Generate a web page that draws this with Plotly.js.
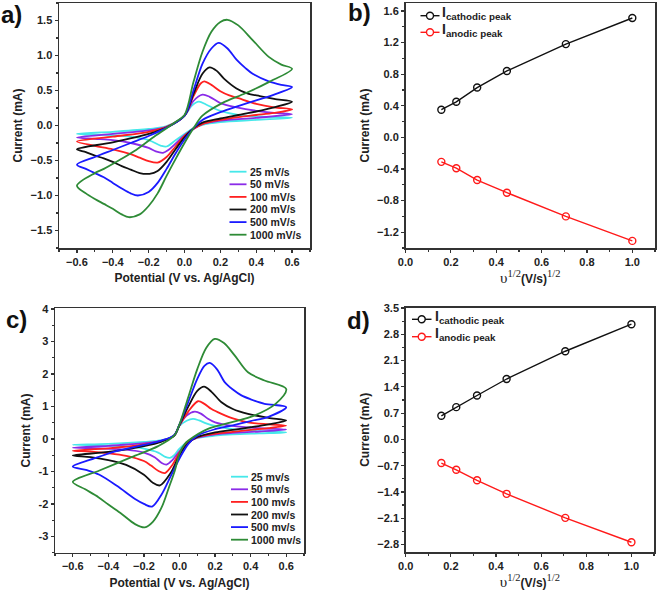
<!DOCTYPE html>
<html><head><meta charset="utf-8">
<script src="https://cdn.plot.ly/plotly-3.0.1.min.js"></script>
<style>html,body{margin:0;padding:0;background:#fff}#chart{width:658px;height:592px}</style>
</head><body><div id="chart"></div>
<script>
// ---------------- DATA ----------------
const scanLabelsA = ['25 mV/s', '50 mV/s', '100 mV/s', '200 mV/s', '500 mV/s', '1000 mV/s'];
const scanLabelsC = ['25 mv/s', '50 mv/s', '100 mv/s', '200 mv/s', '500 mv/s', '1000 mv/s'];
const cvColors = ['#46e8ea', '#8a2be8', '#ff2020', '#111111', '#1a1aff', '#2e8b36'];
const currentTicksC = [-3, -2, -1, 0, 1, 2, 3, 4];

// panel a : potential (V) and current (mA), forward sweep then reverse sweep
const a25E = [-0.6,-0.4,-0.2,-0.1,0,0.04,0.08,0.12,0.16,0.2,0.3,0.4,0.6, 0.4,0.2,0.1,0.05,0,-0.05,-0.1,-0.13,-0.2,-0.3,-0.4,-0.6];
const a25I = [-0.12,-0.09,-0.05,-0.01,0.14,0.28,0.34,0.3,0.25,0.21,0.15,0.13,0.11, 0.08,0.05,0.01,-0.04,-0.12,-0.21,-0.3,-0.29,-0.21,-0.16,-0.14,-0.12];
const a50E = [-0.6,-0.4,-0.2,-0.1,0,0.05,0.1,0.14,0.2,0.29,0.4,0.5,0.6, 0.4,0.2,0.1,0.05,0,-0.05,-0.09,-0.12,-0.16,-0.2,-0.3,-0.4,-0.5,-0.6];
const a50I = [-0.17,-0.12,-0.07,-0.02,0.14,0.35,0.44,0.41,0.32,0.26,0.21,0.18,0.16, 0.11,0.07,0.02,-0.05,-0.14,-0.26,-0.35,-0.39,-0.37,-0.32,-0.25,-0.21,-0.19,-0.17];
const a100E = [-0.6,-0.4,-0.2,-0.1,0,0.05,0.09,0.11,0.15,0.2,0.25,0.3,0.4,0.5,0.6, 0.5,0.4,0.3,0.2,0.1,0.05,0,-0.05,-0.1,-0.15,-0.2,-0.25,-0.3,-0.4,-0.5,-0.6];
const a100I = [-0.23,-0.16,-0.09,-0.02,0.14,0.42,0.6,0.63,0.58,0.49,0.43,0.39,0.31,0.26,0.23, 0.18,0.15,0.12,0.08,0.02,-0.05,-0.15,-0.3,-0.45,-0.53,-0.51,-0.46,-0.41,-0.34,-0.29,-0.23];
const a200E = [-0.6,-0.4,-0.2,-0.1,0,0.05,0.1,0.14,0.18,0.22,0.29,0.35,0.42,0.5,0.6, 0.5,0.4,0.3,0.2,0.1,0.05,0,-0.05,-0.1,-0.15,-0.195,-0.25,-0.3,-0.35,-0.4,-0.45,-0.5,-0.55,-0.6];
const a200I = [-0.34,-0.24,-0.12,-0.03,0.14,0.45,0.74,0.83,0.78,0.67,0.53,0.46,0.42,0.38,0.34, 0.26,0.2,0.15,0.1,0.04,-0.04,-0.17,-0.34,-0.52,-0.65,-0.69,-0.68,-0.63,-0.58,-0.52,-0.47,-0.43,-0.38,-0.34];
const a500E = [-0.6,-0.5,-0.4,-0.3,-0.2,-0.1,0,0.05,0.1,0.15,0.19,0.24,0.29,0.34,0.38,0.47,0.54,0.6, 0.5,0.44,0.35,0.29,0.2,0.1,0.05,0,-0.05,-0.1,-0.15,-0.2,-0.26,-0.3,-0.35,-0.4,-0.45,-0.5,-0.55,-0.6];
const a500I = [-0.56,-0.45,-0.35,-0.25,-0.15,-0.03,0.14,0.5,0.88,1.1,1.18,1.1,0.94,0.82,0.74,0.63,0.58,0.55, 0.44,0.39,0.32,0.27,0.19,0.08,-0.04,-0.2,-0.4,-0.62,-0.82,-0.95,-1.0,-0.97,-0.9,-0.82,-0.74,-0.68,-0.62,-0.56];
const a1000E = [-0.6,-0.5,-0.45,-0.36,-0.27,-0.18,-0.1,-0.05,0,0.05,0.1,0.15,0.2,0.24,0.3,0.38,0.47,0.54,0.6, 0.47,0.34,0.21,0.1,0.05,0,-0.05,-0.1,-0.15,-0.2,-0.25,-0.31,-0.35,-0.4,-0.45,-0.5,-0.55,-0.6];
const a1000I = [-0.86,-0.68,-0.62,-0.49,-0.35,-0.18,-0.04,0.05,0.15,0.62,1.05,1.34,1.48,1.51,1.43,1.22,0.98,0.87,0.81, 0.62,0.46,0.32,0.14,-0.04,-0.25,-0.48,-0.72,-0.97,-1.15,-1.27,-1.31,-1.27,-1.19,-1.12,-1.05,-0.97,-0.86];

// panel c
const c25E = [-0.6,-0.4,-0.2,-0.1,-0.03,0,0.04,0.076,0.11,0.15,0.2,0.3,0.45,0.6, 0.45,0.3,0.2,0.1,0.05,0,-0.03,-0.054,-0.08,-0.12,-0.2,-0.3,-0.45,-0.6];
const c25I = [-0.18,-0.15,-0.09,-0.04,0.1,0.4,0.56,0.62,0.57,0.48,0.4,0.3,0.24,0.2, 0.17,0.14,0.1,0.03,-0.08,-0.3,-0.5,-0.58,-0.55,-0.42,-0.3,-0.23,-0.2,-0.18];
const c50E = [-0.6,-0.4,-0.2,-0.1,-0.03,0,0.04,0.086,0.12,0.16,0.2,0.3,0.45,0.6, 0.45,0.3,0.2,0.1,0.05,0,-0.04,-0.073,-0.1,-0.14,-0.2,-0.3,-0.45,-0.6];
const c50I = [-0.27,-0.21,-0.13,-0.05,0.1,0.42,0.72,0.84,0.78,0.62,0.51,0.4,0.33,0.29, 0.23,0.19,0.14,0.04,-0.1,-0.38,-0.65,-0.79,-0.74,-0.56,-0.42,-0.33,-0.29,-0.27];
const c100E = [-0.6,-0.4,-0.2,-0.1,-0.03,0,0.05,0.104,0.14,0.18,0.236,0.3,0.385,0.5,0.6, 0.5,0.4,0.3,0.2,0.1,0.05,0,-0.04,-0.082,-0.12,-0.16,-0.2,-0.3,-0.4,-0.5,-0.6];
const c100I = [-0.36,-0.29,-0.17,-0.06,0.1,0.42,0.85,1.16,1.08,0.92,0.77,0.63,0.51,0.45,0.41, 0.33,0.28,0.22,0.16,0.05,-0.1,-0.42,-0.8,-1.05,-0.98,-0.82,-0.68,-0.52,-0.44,-0.39,-0.36];
const c200E = [-0.6,-0.4,-0.2,-0.1,-0.03,0,0.05,0.1,0.138,0.18,0.236,0.3,0.385,0.5,0.6, 0.5,0.4,0.3,0.2,0.1,0.05,0,-0.05,-0.11,-0.15,-0.2,-0.3,-0.4,-0.5,-0.6];
const c200I = [-0.51,-0.4,-0.22,-0.08,0.1,0.43,1.0,1.48,1.61,1.45,1.13,0.92,0.77,0.65,0.57, 0.45,0.36,0.28,0.2,0.06,-0.12,-0.5,-1.05,-1.43,-1.35,-1.1,-0.8,-0.65,-0.56,-0.51];
const c500E = [-0.6,-0.48,-0.36,-0.2,-0.1,-0.03,0,0.05,0.1,0.14,0.17,0.21,0.254,0.3,0.348,0.4,0.478,0.6, 0.5,0.4,0.3,0.2,0.1,0.05,0,-0.05,-0.1,-0.154,-0.2,-0.25,-0.35,-0.45,-0.52,-0.6];
const c500I = [-0.85,-0.6,-0.38,-0.18,-0.05,0.12,0.45,1.15,1.85,2.25,2.34,2.15,1.75,1.52,1.34,1.22,1.08,0.98, 0.68,0.55,0.42,0.3,0.1,-0.15,-0.6,-1.15,-1.7,-2.08,-2.0,-1.85,-1.45,-1.1,-0.96,-0.85];
const c1000E = [-0.6,-0.45,-0.27,-0.12,-0.03,0,0.05,0.1,0.15,0.198,0.25,0.31,0.385,0.478,0.6, 0.54,0.42,0.29,0.16,0.05,0.03,0,-0.026,-0.06,-0.1,-0.15,-0.195,-0.25,-0.325,-0.4,-0.456,-0.53,-0.6];
const c1000I = [-1.32,-0.97,-0.56,-0.22,0.1,0.45,1.3,2.15,2.8,3.08,2.95,2.57,2.05,1.8,1.54, 1.08,0.72,0.51,0.31,-0.05,-0.15,-0.45,-0.97,-1.5,-2.1,-2.55,-2.72,-2.62,-2.31,-2.02,-1.79,-1.55,-1.32];

// panels b and d : peak current vs square root of scan rate
const sqrtScanRate = [0.158, 0.224, 0.316, 0.447, 0.707, 1.0];
const ipCathodicB = [0.35, 0.45, 0.63, 0.84, 1.18, 1.51];
const ipAnodicB = [-0.31, -0.39, -0.54, -0.70, -1.00, -1.31];
const ipCathodicD = [0.63, 0.86, 1.17, 1.61, 2.35, 3.07];
const ipAnodicD = [-0.63, -0.81, -1.09, -1.45, -2.09, -2.74];
const peakNames = ['I<sub>cathodic peak</sub>', 'I<sub>anodic peak</sub>'];
const peakColors = ['#111111', '#ff1a1a'];

// ---------------- BUILD ----------------
const cvA = [[a25E,a25I],[a50E,a50I],[a100E,a100I],[a200E,a200I],[a500E,a500I],[a1000E,a1000I]];
const cvC = [[c25E,c25I],[c50E,c50I],[c100E,c100I],[c200E,c200I],[c500E,c500I],[c1000E,c1000I]];
const traces = [];
cvA.forEach((d,i)=>traces.push({x:d[0],y:d[1],type:'scatter',mode:'lines',name:scanLabelsA[i],
  line:{color:cvColors[i],width:1.8,shape:'spline',smoothing:0.9},xaxis:'x',yaxis:'y',showlegend:false,hoverinfo:'skip'}));
cvC.forEach((d,i)=>traces.push({x:d[0],y:d[1],type:'scatter',mode:'lines',name:scanLabelsC[i],
  line:{color:cvColors[i],width:1.8,shape:'spline',smoothing:0.9},xaxis:'x3',yaxis:'y3',showlegend:false,hoverinfo:'skip'}));
[[ipCathodicB,'x2','y2',0],[ipAnodicB,'x2','y2',1],[ipCathodicD,'x4','y4',0],[ipAnodicD,'x4','y4',1]].forEach(s=>{
  traces.push({x:sqrtScanRate,y:s[0],type:'scatter',mode:'lines+markers',name:peakNames[s[3]],
    line:{color:peakColors[s[3]],width:1.4},marker:{symbol:'circle-open',size:7,color:peakColors[s[3]],line:{width:1.4}},
    xaxis:s[1],yaxis:s[2],showlegend:false});
});

const tickFont = {family:'Arial, Liberation Sans, sans-serif',size:11,color:'#222',weight:'bold'};
const titleFont = {family:'Arial, Liberation Sans, sans-serif',size:12,color:'#222',weight:'bold'};
function ax(extra){
  return Object.assign({showline:true,mirror:true,linecolor:'#333',linewidth:1.5,ticks:'outside',ticklen:3,tickwidth:1.2,
    tickcolor:'#333',showgrid:false,zeroline:false,tickfont:tickFont,automargin:false,fixedrange:true},extra);
}
const W=658,H=592;
const px=v=>v/W, py=v=>1-v/H;
const potTitle = {text:'Potential (V vs. Ag/AgCl)',font:titleFont,standoff:7};
const curTitle = {text:'Current (mA)',font:titleFont,standoff:5};
const rootTitle = {text:'<span style="font-family:Liberation Serif,serif;font-weight:normal;font-size:15px">υ<sup>1/2</sup></span>(V/s)<span style="font-family:Liberation Serif,serif;font-weight:normal;font-size:15px"><sup>1/2</sup></span>',font:titleFont,standoff:5};
const mnr = d=>({dtick:d,ticks:'outside',ticklen:2,tickcolor:'#333'});

const layout = {
  width:W,height:H,margin:{l:0,r:0,t:0,b:0},paper_bgcolor:'#fff',plot_bgcolor:'#fff',showlegend:false,
  xaxis: ax({domain:[px(59),px(310)],range:[-0.7,0.7],dtick:0.2,tick0:0,tickformat:'.1f',minor:mnr(0.1),anchor:'y',title:potTitle}),
  yaxis: ax({domain:[py(248),py(3)],range:[-1.75,1.75],dtick:0.5,tick0:0,tickformat:'.1f',minor:mnr(0.25),anchor:'x',title:curTitle}),
  xaxis2: ax({domain:[px(405.5),px(655)],range:[0,1.1],dtick:0.2,tick0:0,tickformat:'.1f',minor:mnr(0.1),anchor:'y2',title:rootTitle}),
  yaxis2: ax({domain:[py(248),py(3)],range:[-1.4,1.7],dtick:0.4,tick0:0,tickformat:'.1f',minor:mnr(0.2),anchor:'x2',title:curTitle}),
  xaxis3: ax({domain:[px(55),px(304)],range:[-0.7,0.7],dtick:0.2,tick0:0,tickformat:'.1f',minor:mnr(0.1),anchor:'y3',title:potTitle}),
  yaxis3: ax({domain:[py(552.7),py(308.3)],range:[-3.5,4.02],tickmode:'array',tickvals:currentTicksC,ticktext:currentTicksC.map(String),minor:mnr(0.5),anchor:'x3',title:curTitle}),
  xaxis4: ax({domain:[px(405.7),px(654)],range:[0,1.1],dtick:0.2,tick0:0,tickformat:'.1f',minor:mnr(0.1),anchor:'y4',title:rootTitle}),
  yaxis4: ax({domain:[py(552),py(307.7)],range:[-3.0,3.51],dtick:0.7,tick0:0,tickformat:'.1f',minor:mnr(0.35),anchor:'x4',title:curTitle}),
  shapes:[], annotations:[]
};

// panel letters
const letterFont = {family:'Arial, Liberation Sans, sans-serif',size:24,color:'#111',weight:'bold'};
[['a)',11.5,14],['b)',359,13],['c)',16,319],['d)',358,320]].forEach(l=>{
  layout.annotations.push({text:l[0],x:px(l[1]),y:py(l[2]),xref:'paper',yref:'paper',showarrow:false,font:letterFont,xanchor:'center',yanchor:'middle'});
});

// CV legends (panels a and c)
const legFont = {family:'Arial, Liberation Sans, sans-serif',size:10.5,color:'#222',weight:'bold'};
[[229.5,246.5,248,171.7,scanLabelsA],[231,248,249,476.7,scanLabelsC]].forEach(g=>{
  g[4].forEach((lab,i)=>{
    const yy = py(g[3]+12.6*i);
    layout.shapes.push({type:'line',xref:'paper',yref:'paper',x0:px(g[0]),x1:px(g[1]),y0:yy,y1:yy,line:{color:cvColors[i],width:1.8}});
    layout.annotations.push({text:lab,x:px(g[2]),y:yy,xref:'paper',yref:'paper',showarrow:false,font:legFont,xanchor:'left',yanchor:'middle'});
  });
});
// peak legends (panels b and d)
const pkFont = {family:'Arial, Liberation Sans, sans-serif',size:14,color:'#222',weight:'bold'};
[[420.5,439.5,440,15.7,16.6],[412,431.5,432.5,319.3,17.4]].forEach(g=>{
  peakNames.forEach((lab,i)=>{
    const yy = py(g[3]+g[4]*i);
    const cx = px((g[0]+g[1])/2);
    layout.shapes.push({type:'line',xref:'paper',yref:'paper',x0:px(g[0]),x1:px(g[1]),y0:yy,y1:yy,line:{color:peakColors[i],width:1.4}});
    layout.shapes.push({type:'circle',xref:'paper',yref:'paper',xsizemode:'pixel',ysizemode:'pixel',xanchor:cx,yanchor:yy,
      x0:-3.5,x1:3.5,y0:-3.5,y1:3.5,line:{color:peakColors[i],width:1.4},fillcolor:'#fff'});
    layout.annotations.push({text:lab,x:px(g[2]),y:yy+0.004,xref:'paper',yref:'paper',showarrow:false,font:pkFont,xanchor:'left',yanchor:'middle'});
  });
});

Plotly.newPlot('chart',traces,layout,{displayModeBar:false,staticPlot:true});
</script></body></html>
